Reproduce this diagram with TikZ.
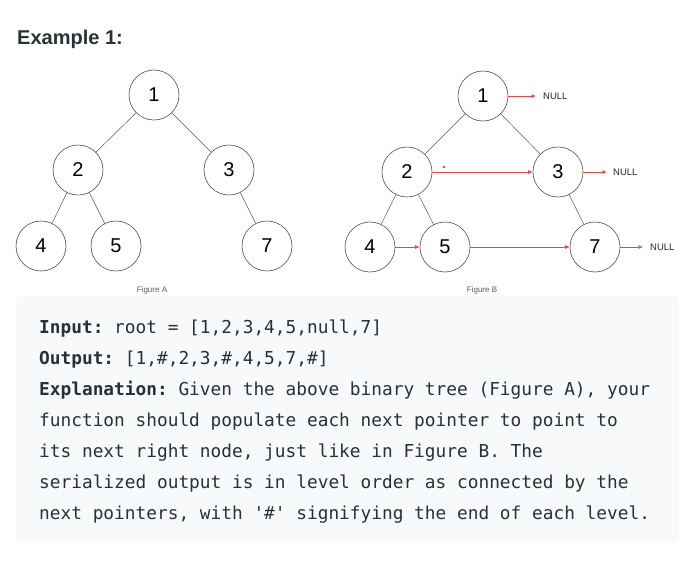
\documentclass[tikz,border=0pt]{standalone}
\usepackage{fontspec}
\setmainfont{Liberation Sans}
\newfontfamily\codefont[Ligatures=TeXOff]{DejaVu Sans Mono}
\usetikzlibrary{arrows.meta}
\definecolor{inktext}{HTML}{263238}
\definecolor{panelgray}{HTML}{F7F9FA}
\definecolor{nextred}{HTML}{FF3B3B}

\begin{document}
\begin{tikzpicture}[x=1pt,y=-1pt,
    treenode/.style={circle,draw=black!70,line width=.6pt,minimum size=50pt,inner sep=0pt,font=\fontsize{20}{20}\selectfont},
    treeline/.style={draw=black!65,line width=.5pt},
    nextptr/.style={draw=nextred,line width=.8pt,-{Latex[length=4.5pt,width=4pt]},fill=nextred},
    nulltext/.style={anchor=west,inner sep=0pt,font=\fontsize{9.5}{10}\selectfont,text=black!85},
    figlabel/.style={inner sep=0pt,font=\fontsize{8}{9}\selectfont,text=black!65},
    codeline/.style={anchor=base west,inner sep=0pt,text=inktext,font=\codefont\fontsize{17.8}{20}\selectfont\frenchspacing}]
    \useasboundingbox (0,0) rectangle (690,560);
    \node[anchor=base west,inner sep=0pt,text=inktext,font=\bfseries\fontsize{20}{24}\selectfont] (title) at (17,44) {Example 1:};

    % Figure A
    \foreach \n/\x/\y in {1/154/95, 2/78/170, 3/229/170, 4/41/246, 5/116/246, 7/267/246}
        \node[treenode] (a\n) at (\x,\y) {\n};
    \foreach \p/\c in {1/2, 1/3, 2/4, 2/5, 3/7}
        \draw[treeline] (a\p) -- (a\c);
    \node[figlabel] (figA) at (152,290) {Figure A};

    % Figure B
    \foreach \n/\x/\y in {1/483/96, 2/407/172, 3/558/172, 4/370/247, 5/445/247, 7/595/247}
        \node[treenode] (b\n) at (\x,\y) {\n};
    \foreach \p/\c in {1/2, 1/3, 2/4, 2/5, 3/7}
        \draw[treeline] (b\p) -- (b\c);
    \node[nulltext] (null1) at (543,96) {NULL};
    \node[nulltext] (null3) at (613,172) {NULL};
    \node[nulltext] (null7) at (650,247) {NULL};
    \draw[nextptr,shorten >=7pt] (b1) -- (null1);
    \draw[nextptr,shorten >=6pt] (b3) -- (null3);
    \draw[nextptr,shorten >=7pt] (b7) -- (null7);
    \draw[nextptr] (b2) -- (b3);
    \draw[nextptr] (b4) -- (b5);
    \draw[nextptr] (b5) -- (b7);
    \fill[nextred] (444,167) circle (1.3pt);
    \node[figlabel] (figB) at (482,290) {Figure B};

    % explanation panel
    \fill[panelgray,rounded corners=5pt] (16,296) rectangle (679,543);
    \node[codeline] (line1) at (39,333) {\textbf{Input:} root = [1,2,3,4,5,null,7]};
    \node[codeline] (line2) at (39,364) {\textbf{Output:} [1,\#,2,3,\#,4,5,7,\#]};
    \node[codeline] (line3) at (39,395) {\textbf{Explanation:} Given the above binary tree (Figure A), your};
    \node[codeline] (line4) at (39,426) {function should populate each next pointer to point to};
    \node[codeline] (line5) at (39,457) {its next right node, just like in Figure B. The};
    \node[codeline] (line6) at (39,488) {serialized output is in level order as connected by the};
    \node[codeline] (line7) at (39,519) {next pointers, with '\#' signifying the end of each level.};
\end{tikzpicture}
\end{document}
